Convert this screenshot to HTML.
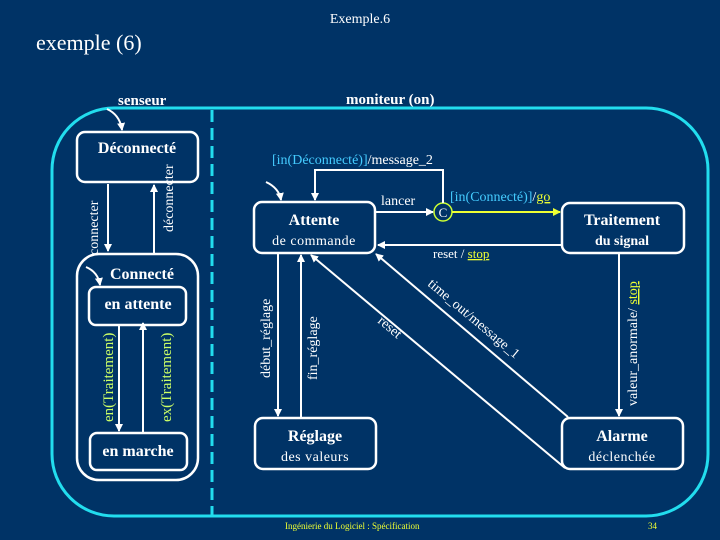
<!DOCTYPE html>
<html><head><meta charset="utf-8"><style>
html,body{margin:0;padding:0;background:#003366;}
svg{display:block;}
text{font-family:"Liberation Serif",serif;}
</style></head><body>
<svg width="720" height="540" viewBox="0 0 720 540" xmlns="http://www.w3.org/2000/svg">
<defs>
<marker id="a" markerWidth="8" markerHeight="8" refX="7" refY="4" orient="auto" markerUnits="userSpaceOnUse"><path d="M0,0 L8,4 L0,8 z" fill="#fff"/></marker>
<marker id="y" markerWidth="8" markerHeight="8" refX="7" refY="4" orient="auto" markerUnits="userSpaceOnUse"><path d="M0,0 L8,4 L0,8 z" fill="#eeff33"/></marker>
</defs>
<rect width="720" height="540" fill="#003366"/>
<text x="360" y="23" fill="#fff" font-size="14" text-anchor="middle">Exemple.6</text>
<text x="36" y="50" fill="#fff" font-size="22">exemple (6)</text>
<text x="118" y="105" fill="#fff" font-size="15" font-weight="bold">senseur</text>
<text x="346" y="104" fill="#fff" font-size="15" font-weight="bold">moniteur (on)</text>

<rect x="52" y="108" width="656" height="408" rx="62" fill="none" stroke="#22ddee" stroke-width="3"/>
<line x1="212" y1="110" x2="212" y2="515" stroke="#22ddee" stroke-width="3" stroke-dasharray="12,6"/>

<g fill="none" stroke="#fff" stroke-width="2.5">
<rect x="77" y="132" width="121" height="50" rx="8"/>
<rect x="77" y="254" width="121" height="226" rx="22"/>
<rect x="89" y="287" width="97" height="38" rx="7"/>
<rect x="90" y="433" width="97" height="37" rx="7"/>
<rect x="254" y="202" width="121" height="51" rx="8"/>
<rect x="562" y="203" width="122" height="50" rx="8"/>
<rect x="255" y="418" width="121" height="51" rx="8"/>
<rect x="562" y="418" width="121" height="51" rx="8"/>
</g>
<circle cx="443" cy="212" r="9" fill="none" stroke="#ccff33" stroke-width="1.5"/>
<text x="443" y="217" fill="#fff" font-size="13" text-anchor="middle">C</text>

<g stroke="#fff" stroke-width="2" fill="none">
<line x1="108" y1="184" x2="108" y2="251" marker-end="url(#a)"/>
<line x1="154" y1="253" x2="154" y2="185" marker-end="url(#a)"/>
<line x1="119" y1="326" x2="119" y2="431" marker-end="url(#a)"/>
<line x1="143" y1="432" x2="143" y2="323" marker-end="url(#a)"/>
<line x1="278" y1="254" x2="278" y2="416" marker-end="url(#a)"/>
<line x1="301" y1="418" x2="301" y2="255" marker-end="url(#a)"/>
<line x1="619" y1="254" x2="619" y2="416" marker-end="url(#a)"/>
<line x1="376" y1="212" x2="433" y2="212" marker-end="url(#a)"/>
<polyline points="443,203 443,170 315,170 315,200" marker-end="url(#a)"/>
<line x1="561" y1="245" x2="378" y2="245" marker-end="url(#a)"/>
<line x1="568" y1="417" x2="376" y2="254" marker-end="url(#a)"/>
<line x1="565" y1="468" x2="311" y2="255" marker-end="url(#a)"/>
<path d="M107,109 Q120,115 122,130" marker-end="url(#a)"/>
<path d="M266,182 Q279,188 281,200" marker-end="url(#a)"/>
<path d="M86,267 Q98,272 100,285" marker-end="url(#a)"/>
</g>
<line x1="452" y1="212" x2="560" y2="212" stroke="#eeff33" stroke-width="2" marker-end="url(#y)"/>

<g fill="#fff" font-weight="bold" text-anchor="middle">
<text x="137" y="153" font-size="16">Déconnecté</text>
<text x="142" y="279" font-size="16">Connecté</text>
<text x="138" y="309" font-size="16">en attente</text>
<text x="138" y="456" font-size="16">en marche</text>
<text x="314" y="225" font-size="16">Attente</text>
<text x="314" y="245" font-size="14" font-weight="normal" letter-spacing="0.5">de commande</text>
<text x="622" y="225" font-size="16">Traitement</text>
<text x="622" y="245" font-size="14">du signal</text>
<text x="315" y="441" font-size="16">Réglage</text>
<text x="315" y="461" font-size="14" font-weight="normal" letter-spacing="0.5">des valeurs</text>
<text x="622" y="441" font-size="16">Alarme</text>
<text x="622" y="461" font-size="14" font-weight="normal" letter-spacing="0.5">déclenchée</text>
</g>

<g fill="#fff" font-size="14">
<text x="272" y="164"><tspan fill="#44ccff">[in(Déconnecté)]</tspan>/message_2</text>
<text x="381" y="205">lancer</text>
<text x="450" y="201"><tspan fill="#44ccff">[in(Connecté)]</tspan>/<tspan fill="#eeff33" text-decoration="underline">go</tspan></text>
<text x="433" y="258" font-size="13">reset / <tspan fill="#eeff33" text-decoration="underline">stop</tspan></text>
<text transform="translate(98,255) rotate(-90)" font-size="14">connecter</text>
<text transform="translate(173,232) rotate(-90)" font-size="14">déconnecter</text>
<text transform="translate(113,422) rotate(-90)" font-size="15" fill="#ccff66">en(Traitement)</text>
<text transform="translate(171,422) rotate(-90)" font-size="15" fill="#ccff66">ex(Traitement)</text>
<text transform="translate(270,378) rotate(-90)" font-size="14">début_réglage</text>
<text transform="translate(317,380) rotate(-90)" font-size="14">fin_réglage</text>
<text transform="translate(637,406) rotate(-90)" font-size="14">valeur_anormale/ <tspan fill="#eeff33" text-decoration="underline">stop</tspan></text>
<text transform="translate(427,285) rotate(40)" font-size="14">time_out/message_1</text>
<text transform="translate(377,322) rotate(40)" font-size="14">reset</text>
</g>
<text x="285" y="529" fill="#eeff33" font-size="9">Ingénierie du Logiciel : Spécification</text>
<text x="648" y="529" fill="#eeff33" font-size="9">34</text>
</svg>
</body></html>
